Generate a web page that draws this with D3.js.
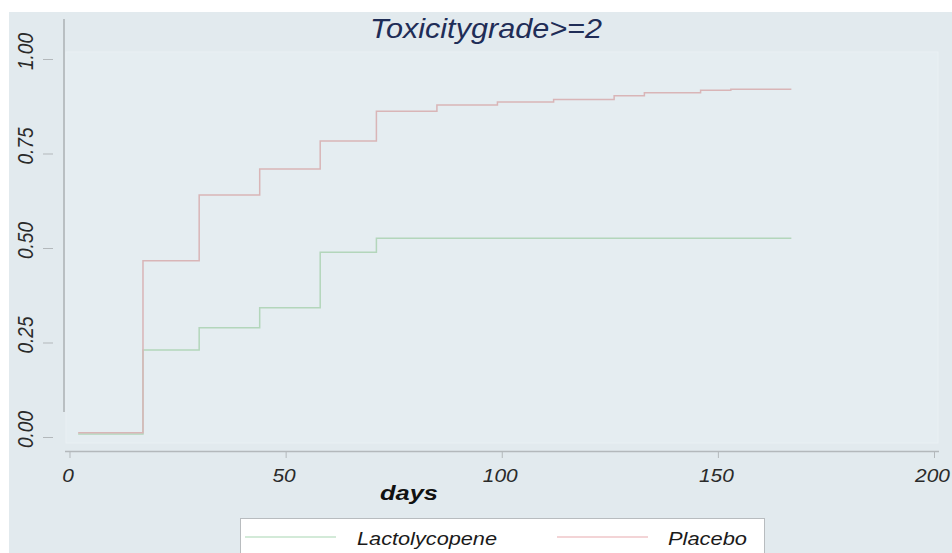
<!DOCTYPE html>
<html>
<head>
<meta charset="utf-8">
<script src="https://cdn.jsdelivr.net/npm/d3@7"></script>
<style>
  body { margin: 0; background: #fff; }
  svg { display: block; font-family: "Liberation Sans", Arial, sans-serif; }
</style>
</head>
<body>
<svg id="grafico"></svg>
<script>
const w = 952;
const h = 553;

// step times (days) and cumulative incidence
const diasPlacebo = [2, 17, 30, 44, 58, 71, 85, 99, 112, 126, 133, 146, 153, 167];
const placebo = [0.011, 0.466, 0.640, 0.709, 0.783, 0.862, 0.878, 0.886, 0.893, 0.903, 0.911, 0.917, 0.920, 0.920];
const diasLacto = [2, 17, 30, 44, 58, 71, 167];
const lacto = [0.008, 0.230, 0.289, 0.342, 0.489, 0.526, 0.526];

const ticksX = [0, 50, 100, 150, 200];
const ticksY = [0, 0.25, 0.5, 0.75, 1];
const titulo = 'Toxicitygrade>=2';
const etiquetaX = 'days';
const nombres = ['Lactolycopene', 'Placebo'];
const colores = ['#b3d6bb', '#d9b5b7'];
const coloresLeyenda = ['#c4e3cb', '#efc6c8'];

const escalaX = d3.scaleLinear().domain([0, 200]).range([69.5, 934]);
const escalaY = d3.scaleLinear().domain([0, 1]).range([437, 59]);

let svg = d3.select('#grafico').attr('width', w).attr('height', h);

// fondo
svg.append('rect').attr('x', 9).attr('y', 12).attr('width', w - 9).attr('height', h - 12).attr('fill', '#e2eaee');
svg.append('rect').attr('x', 66).attr('y', 52).attr('width', 872).attr('height', 391)
  .attr('fill', '#e5edf1').attr('stroke', '#e9f0f3').attr('stroke-width', 1);

// eje Y
svg.append('line').attr('x1', 64).attr('x2', 64).attr('y1', 19).attr('y2', 412)
  .attr('stroke', '#a3a8ab').attr('stroke-width', 1.3);

const ejeY = d3.axisLeft(escalaY).tickValues(ticksY).tickSize(10).tickFormat('');
let gy = svg.append('g').attr('transform', 'translate(53, 0)').call(ejeY);
gy.select('.domain').remove();
gy.selectAll('.tick line').attr('stroke', '#b3b8bb');

svg.append('g').selectAll('text')
  .data(ticksY)
  .enter()
  .append('text')
  .attr('transform', d => 'translate(25,' + (escalaY(d) - 7.5) + ') rotate(-90) scale(1, 1.15)')
  .attr('text-anchor', 'middle')
  .attr('dominant-baseline', 'central')
  .attr('font-size', 19)
  .attr('font-style', 'italic')
  .attr('fill', '#2a2a2a')
  .text(d3.format('.2f'));

// eje X
const ejeX = d3.axisBottom(escalaX).tickValues(ticksX).tickSize(7).tickSizeOuter(0).tickFormat(d3.format('d'));
let gx = svg.append('g').attr('transform', 'translate(0, 451)').call(ejeX);
gx.select('.domain').attr('d', 'M65,0.5H939').attr('stroke', '#b3b8bb').attr('stroke-width', 1.3);
gx.selectAll('.tick line').attr('stroke', '#b3b8bb');
gx.selectAll('.tick text')
  .attr('y', 0)
  .attr('dy', 0)
  .attr('transform', 'translate(-2, 31) scale(1.13, 1)')
  .attr('font-size', 18.5)
  .attr('font-style', 'italic')
  .attr('font-family', '"Liberation Sans", Arial, sans-serif')
  .attr('fill', '#2a2a2a');

svg.append('text')
  .attr('x', 380).attr('y', 500)
  .attr('textLength', 58)
  .attr('lengthAdjust', 'spacingAndGlyphs')
  .attr('font-size', 21)
  .attr('font-weight', 'bold')
  .attr('font-style', 'italic')
  .attr('fill', '#111')
  .text(etiquetaX);

// titulo
svg.append('text')
  .attr('x', 370).attr('y', 38)
  .attr('textLength', 232)
  .attr('lengthAdjust', 'spacingAndGlyphs')
  .attr('font-size', 28)
  .attr('font-style', 'italic')
  .attr('fill', '#1f2d57')
  .text(titulo);

// curvas
let linea = d3.line()
  .x(d => escalaX(d[0]))
  .y(d => escalaY(d[1]))
  .curve(d3.curveStepAfter);

const series = [d3.zip(diasLacto, lacto), d3.zip(diasPlacebo, placebo)];
series.forEach((s, i) => {
  svg.append('path')
    .attr('d', linea(s))
    .style('stroke', colores[i])
    .style('stroke-width', 1.5)
    .style('fill', 'none');
});

// leyenda
svg.append('rect').attr('x', 240.5).attr('y', 518.5).attr('width', 524).attr('height', 50)
  .attr('fill', '#fff').attr('stroke', '#b8bcbf');
const posLeyenda = [[245, 336, 357, 140], [557, 648, 668, 79]];
posLeyenda.forEach((p, i) => {
  svg.append('line').attr('x1', p[0]).attr('x2', p[1]).attr('y1', 537).attr('y2', 537)
    .attr('stroke', coloresLeyenda[i]).attr('stroke-width', 1.4);
  svg.append('text').attr('x', p[2]).attr('y', 545)
    .attr('textLength', p[3])
    .attr('lengthAdjust', 'spacingAndGlyphs')
    .attr('font-size', 18.5)
    .attr('font-style', 'italic')
    .attr('fill', '#1a1a1a')
    .text(nombres[i]);
});
</script>
</body>
</html>
